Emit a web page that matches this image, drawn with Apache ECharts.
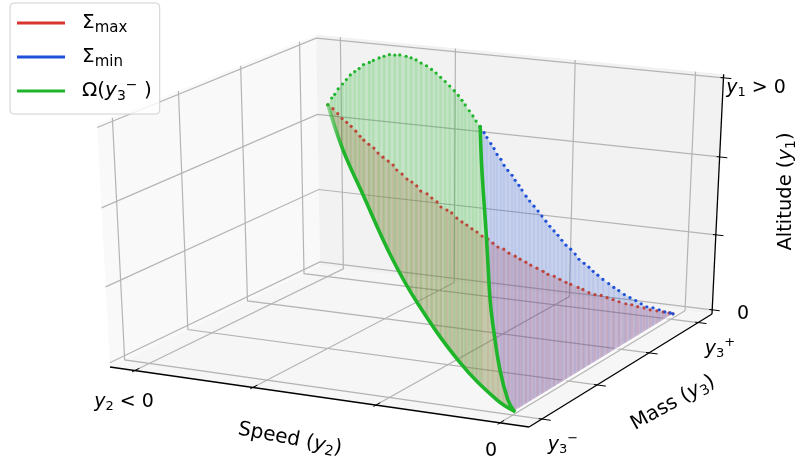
<!DOCTYPE html>
<html><head><meta charset="utf-8">
<script src="https://cdn.jsdelivr.net/npm/echarts@6/dist/echarts.min.js"></script>
<style>html,body{margin:0;background:#fff}#c{width:800px;height:464px}</style></head>
<body><div id="c"></div><script>
// All values are in thousandths of the length of each 3D axis box edge.
const speedTicks = [63, 356, 650, 935];
const massTicks = [64, 349, 633, 917];
const altitudeTicks = [18, 339, 664, 986];

const omegaMass = 64;
const archSpeed = [514,523,530,538,548,557,566,576,586,596,609,618,631,642,654,666,677,691,702,713,724,736,747,757,767,777,787,797,806,814,821,830,838,845,854];
const archAltitude = [1135,1162,1177,1199,1219,1237,1256,1270,1283,1299,1309,1318,1329,1337,1345,1345,1347,1344,1340,1334,1324,1316,1304,1292,1278,1264,1249,1233,1217,1200,1184,1164,1146,1128,1109];
const leftSpeed = [514,547,590,657,717,813,898,937];
const leftAltitude = [1135,969,810,568,397,184,52,17];
const rightSpeed = [854,858,862,869,873,880,887,904,923,937];
const rightAltitude = [1109,966,872,720,624,449,351,175,58,17];

const maxSpeed = [514,519,523,526,530,533,537,540,542,547,552,555,560,565,570,572,578,583,588,593,596,604,609,615,618,626,631,637,643,648,654,660,666,674,680,686,694,700,709,715,723,729,738,747,753,762,770,779,785,797,803,812,821,830,839,848,857,868,877,886,896,905,916,926,935,939];
const maxMass = [64,77,90,103,116,130,143,156,169,182,195,208,221,235,248,261,274,287,300,313,326,340,353,366,379,392,405,418,431,445,458,471,484,497,510,523,536,550,563,576,589,602,615,628,641,655,668,681,694,707,720,733,746,760,773,786,799,812,825,838,851,865,878,891,904,917];
const maxAltitude = [1135,1116,1093,1070,1051,1031,1008,984,964,944,925,901,881,861,841,817,797,773,757,737,712,697,676,656,631,615,599,574,554,537,517,500,479,463,442,422,409,388,372,355,339,322,306,289,272,260,243,227,214,198,185,168,156,148,135,123,110,98,90,78,69,57,49,41,33,24];

const minSpeed = [854,854,851,851,849,847,847,845,845,846,844,844,842,843,843,844,845,845,846,847,848,849,850,851,854,856,857,861,864,866,869,873,879,883,887,892,898,904,909,915,922,929,935,940,939];
const minMass = [64,83,103,122,142,161,180,200,219,238,258,277,297,316,335,355,374,394,413,432,452,471,490,510,529,549,568,587,607,626,646,665,684,704,723,743,762,781,801,820,839,859,878,898,917];
const minAltitude = [1108,1079,1053,1023,996,966,940,909,882,856,828,801,774,743,716,688,661,633,605,577,550,525,497,469,445,417,388,364,340,315,291,266,242,218,197,173,153,133,112,92,81,65,49,37,24];

// Perspective of the 3D box, from the box corners as seen in the picture
const cornerA=[110,367],cornerB=[529,427],cornerC=[712,314],cornerD=[320,266],cornerE=[97,124],depthW=-0.04;
const det=(p,q)=>p[0]*q[1]-p[1]*q[0];
const e1=[cornerB[0]-cornerC[0],cornerB[1]-cornerC[1]],e2=[cornerD[0]-cornerC[0],cornerD[1]-cornerC[1]];
const sk=[cornerA[0]-cornerB[0]+cornerC[0]-cornerD[0],cornerA[1]-cornerB[1]+cornerC[1]-cornerD[1]];
const depthU=det(sk,e2)/det(e1,e2),depthV=det(e1,sk)/det(e1,e2);
const colU=[0,1].map(i=>cornerB[i]*(1+depthU)-cornerA[i]);
const colV=[0,1].map(i=>cornerD[i]*(1+depthV)-cornerA[i]);
const colW=[0,1].map(i=>cornerE[i]*(1+depthW)-cornerA[i]);
function project(s,m,a){const u=s/1000,v=m/1000,w=a/1000,h=1+depthU*u+depthV*v+depthW*w;
  const p=[0,1].map(i=>(cornerA[i]+colU[i]*u+colV[i]*v+colW[i]*w)/h);
  p[1]-=v*w*(7*(1-u)+3*u); // small fit of the far top corners
  return p;}

const archPts=archSpeed.map((s,i)=>project(s,omegaMass,archAltitude[i]));
const leftPts=leftSpeed.map((s,i)=>project(s,omegaMass,leftAltitude[i]));
const rightPts=rightSpeed.map((s,i)=>project(s,omegaMass,rightAltitude[i]));
const maxPts=maxSpeed.map((s,i)=>project(s,maxMass[i],maxAltitude[i]));
const minPts=minSpeed.map((s,i)=>project(s,minMass[i],minAltitude[i]));
const tip=leftPts[leftPts.length-1],end=maxPts[maxPts.length-1];

const RED='#d8352e',BLUE='#1f50d8',GREEN='#1fb52a';
function lowerAt(line,x){for(let i=1;i<line.length;i++){if(x<=line[i][0]){const a=line[i-1],b=line[i],t=(x-a[0])/((b[0]-a[0])||1);return a[1]+(b[1]-a[1])*t;}}return line[line.length-1][1];}
function stripes(top,lower){return top.map(p=>[p,[p[0],lowerAt(lower,p[0])]]);}

function polySeries(polys){return {type:'custom',silent:true,clip:false,animation:false,data:polys.map((_,i)=>[i]),
  renderItem:(ps,api)=>{const q=polys[ps.dataIndex];return {type:'polygon',shape:{points:q.pts.map(p=>api.coord(p))},style:{fill:q.fill,stroke:null}};}};}
function lineSeries(segs,stroke,width){return {type:'custom',silent:true,clip:false,animation:false,data:segs.map((_,i)=>[i]),
  renderItem:(ps,api)=>({type:'polyline',shape:{points:segs[ps.dataIndex].map(p=>api.coord(p))},style:{stroke,lineWidth:width,fill:null}})};}

const P=project;
const panes=[
 {pts:[P(0,0,0),P(0,1000,0),P(0,1000,1000),P(0,0,1000)],fill:'#f9f9f9'},
 {pts:[P(0,1000,0),P(1000,1000,0),P(1000,1000,1000),P(0,1000,1000)],fill:'#f2f2f2'},
 {pts:[P(0,0,0),P(1000,0,0),P(1000,1000,0),P(0,1000,0)],fill:'#f6f6f6'}];
const grid=[];
speedTicks.forEach(s=>grid.push([P(s,0,0),P(s,1000,0),P(s,1000,1000)]));
massTicks.forEach(m=>grid.push([P(1000,m,0),P(0,m,0),P(0,m,1000)]));
altitudeTicks.forEach(a=>grid.push([P(0,0,a),P(0,1000,a),P(1000,1000,a)]));
const axes=[[P(0,0,0),P(1000,0,0)],[P(1000,0,0),P(1000,1000,0)],[P(1000,1000,0),P(1000,1000,1000)]];
const ticks=[];
speedTicks.forEach(s=>ticks.push([P(s,-12,0),P(s,20,0)]));
massTicks.forEach(m=>ticks.push([P(993,m,0),P(1020,m,0)]));
altitudeTicks.forEach(a=>ticks.push([P(993,1000,a),P(1018,1000,a)]));

const dot=(name,pts,color,op)=>({name,type:'scatter',data:pts,symbol:'circle',symbolSize:3.2,clip:false,silent:true,animation:false,itemStyle:{color,opacity:op}});
const thick=(name,pts,stroke)=>({name,type:'line',data:pts,smooth:0.4,symbol:'none',clip:false,silent:true,animation:false,lineStyle:{color:stroke,width:3.6,cap:'round'},itemStyle:{color:GREEN}});
const fadedStart={type:'linear',global:true,x:leftPts[0][0],y:leftPts[0][1],x2:leftPts[1][0],y2:leftPts[1][1],
 colorStops:[{offset:0,color:'rgba(31,181,42,0.4)'},{offset:1,color:GREEN}]};

const series=[
 polySeries(panes),
 lineSeries(grid,'#b4b4b4',1.2),
 lineSeries(axes,'#000',1.3),
 lineSeries(ticks,'#000',1),
 lineSeries([[tip,end]],'rgba(255,255,255,0.9)',3),
 polySeries([
  {pts:[...maxPts,...leftPts.slice().reverse()],fill:'rgba(216,53,46,0.2)'},
  {pts:[...minPts,...rightPts.slice().reverse()],fill:'rgba(31,80,216,0.2)'},
  {pts:[...archPts,...rightPts,...leftPts.slice().reverse()],fill:'rgba(31,181,42,0.21)'}]),
 lineSeries(stripes(maxPts,[...leftPts,end]),'rgba(216,53,46,0.07)',2),
 lineSeries(stripes(minPts,[...rightPts,end]),'rgba(31,80,216,0.07)',2),
 lineSeries(stripes(archPts,leftPts),'rgba(31,181,42,0.12)',2.4),
 dot('Σmax',maxPts,'#bd3a2e',0.92),
 dot('Σmin',minPts,BLUE,1),
 dot('Ωarch',archPts,GREEN,1),
 thick('Ω',leftPts,fadedStart),
 thick('Ω',rightPts,GREEN)
];

const F="'DejaVu Sans'";
const base={fontFamily:F,color:'#000'};
function richFor(sz){const sb=Math.round(sz*0.7);return {
 m:{...base,fontSize:sz,lineHeight:sz+6},
 i:{...base,fontSize:sz,fontStyle:'italic',lineHeight:sz+6},
 s:{...base,fontSize:sb,lineHeight:sz+6,padding:[Math.round(sz*0.5),0,0,0]},
 u:{...base,fontSize:sb,lineHeight:sz+6,padding:[0,0,Math.round(sz*0.62),0]},
 si:{...base,fontSize:sb+1,lineHeight:sz+6,padding:[Math.round(sz*0.55),0,0,0]}
};}
function label(text,x,y,size,rotation){return {type:'text',x,y,rotation:rotation||0,z:50,silent:true,
 style:{text,rich:richFor(size),font:size+'px '+F,fill:'#000',align:'center',verticalAlign:'middle'}};}
const graphic=[
 label('{i|y}{s|2}{m| < 0}',124,402,19),
 label('{m|0}',491,451,19),
 label('{i|y}{s|3}{u|−}',563,445,19),
 label('{i|y}{s|3}{u|+}',720,349,19),
 label('{m|0}',743,314,19),
 label('{i|y}{s|1}{m| > 0}',756,88,19),
 label('{m|Speed (}{i|y}{s|2}{m|)}',290,439,20,-0.19),
 label('{m|Mass (}{i|y}{s|3}{m|)}',673,403,20,0.51),
 label('{m|Altitude (}{i|y}{s|1}{m|)}',786,191.5,19.5,Math.PI/2)
];
const legendText={'Σmax':'{gap|}{m|Σ}{si|max}','Σmin':'{gap|}{m|Σ}{si|min}','Ω':'{gap|}{m|Ω(}{i|y}{s|3}{u|−}{m| )}'};

const chart=echarts.init(document.getElementById('c'),null,{renderer:'canvas'});
chart.setOption({
 animation:false,backgroundColor:'#fff',
 grid:{left:0,right:0,top:0,bottom:0},
 xAxis:{type:'value',min:0,max:800,show:false},
 yAxis:{type:'value',min:0,max:464,inverse:true,show:false},
 legend:{data:[{name:'Σmax',itemStyle:{color:RED,opacity:1}},{name:'Σmin'},{name:'Ω'}],selectedMode:false,left:10,top:3,orient:'vertical',icon:'rect',itemWidth:48,itemHeight:3,itemGap:8,
  padding:[7,8,10,7],backgroundColor:'rgba(255,255,255,0.8)',borderColor:'#d0d0d0',borderWidth:1,borderRadius:4,z:100,
  formatter:n=>legendText[n],
  textStyle:{...base,fontSize:20,rich:{...richFor(20),gap:{width:12,fontSize:20,lineHeight:26}}}},
 graphic,series
});
</script></body></html>
